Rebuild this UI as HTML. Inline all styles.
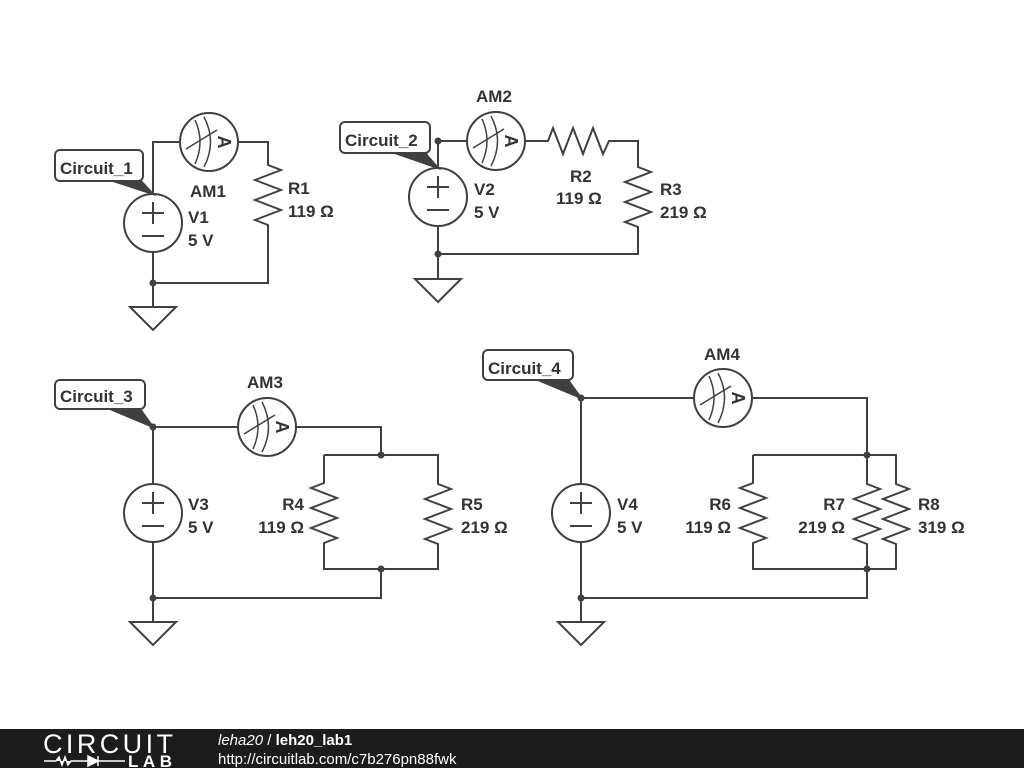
<!DOCTYPE html>
<html><head><meta charset="utf-8"><style>
html,body{margin:0;padding:0;background:#fff;}
svg{display:block;}
text{font-family:"Liberation Sans",sans-serif;font-weight:bold;font-size:17px;fill:#333;}
</style></head><body>
<svg width="1024" height="768" viewBox="0 0 1024 768" xmlns="http://www.w3.org/2000/svg">
<defs>
<g id="am">
  <circle cx="0" cy="0" r="29" fill="#fff" stroke="#404040" stroke-width="2"/>
  <path d="M-14 -22 Q-4 0 -14 22 M-5 -25 Q8 0 -5 25 M-23 7 L8 -12" fill="none" stroke="#404040" stroke-width="1.5"/>
  <text x="15" y="0" transform="rotate(90 15 0)" text-anchor="middle" dy="6" style="font-size:18px">A</text>
</g>
<g id="vs">
  <circle cx="0" cy="0" r="29" fill="#fff" stroke="#404040" stroke-width="2"/>
  <path d="M-11 -10 H11 M0 -21 V1 M-11 13 H11" stroke="#404040" stroke-width="2" fill="none"/>
</g>
<g id="gnd">
  <path d="M-23 0 H23 L0 23 Z" fill="#fff" stroke="#404040" stroke-width="2"/>
</g>
</defs>
<g fill="none" stroke="#404040" stroke-width="2">
<path d="M153 194 V142 H180 M238 142 H268 V165 l13 5 l-26 10 l26 10 l-26 10 l26 10 l-26 10 l13 5 V283 H153 V252 M153 283 V307"/>
<path d="M438 168 V141 H467 M525 141 H548 l5 -13 l10 26 l10 -26 l10 26 l10 -26 l10 26 l6 -13 H638 V167 l13 5 l-26 10 l26 10 l-26 10 l26 10 l-26 10 l13 5 V254 H438 V226 M438 254 V279"/>
<path d="M153 484 V427 H238 M296 427 H381 V455 M324 455 H438 V484 l13 5 l-26 10 l26 10 l-26 10 l26 10 l-26 10 l13 5 V569 H324 V543 l13 -5 l-26 -10 l26 -10 l-26 -10 l26 -10 l-26 -10 l13 -5 V455 M381 569 V598 H153 V542 M153 598 V622"/>
<path d="M581 484 V398 H694 M752 398 H867 V455 M753 455 H896 V484 l13 5 l-26 10 l26 10 l-26 10 l26 10 l-26 10 l13 5 V569 H753 V543 l13 -5 l-26 -10 l26 -10 l-26 -10 l26 -10 l-26 -10 l13 -5 V455 M867 455 V484 l13 5 l-26 10 l26 10 l-26 10 l26 10 l-26 10 l13 5 V569 M867 569 V598 H581 V542 M581 598 V622"/>
</g>
<g fill="#404040">
<circle cx="153" cy="283" r="3.5"/>
<circle cx="438" cy="141" r="3.5"/><circle cx="438" cy="254" r="3.5"/>
<circle cx="153" cy="427" r="3.5"/><circle cx="381" cy="455" r="3.5"/><circle cx="381" cy="569" r="3.5"/><circle cx="153" cy="598" r="3.5"/>
<circle cx="581" cy="398" r="3.5"/><circle cx="867" cy="455" r="3.5"/><circle cx="867" cy="569" r="3.5"/><circle cx="581" cy="598" r="3.5"/>
</g>
<use href="#am" x="209" y="142"/><use href="#am" x="496" y="141"/><use href="#am" x="267" y="427"/><use href="#am" x="723" y="398"/>
<use href="#vs" x="153" y="223"/><use href="#vs" x="438" y="197"/><use href="#vs" x="153" y="513"/><use href="#vs" x="581" y="513"/>
<use href="#gnd" x="153" y="307"/><use href="#gnd" x="438" y="279"/><use href="#gnd" x="153" y="622"/><use href="#gnd" x="581" y="622"/>
<g stroke="#404040" stroke-width="2">
<path d="M110 180 L140 180 L153 194 Z" fill="#404040"/>
<rect x="55" y="150" width="88" height="31" rx="5" fill="#fff"/>
<path d="M395 153 L425 153 L438 168 Z" fill="#404040"/>
<rect x="340" y="122" width="90" height="31" rx="5" fill="#fff"/>
<path d="M110 409 L140 409 L153 427 Z" fill="#404040"/>
<rect x="55" y="380" width="90" height="29" rx="5" fill="#fff"/>
<path d="M538 380 L568 380 L581 398 Z" fill="#404040"/>
<rect x="483" y="350" width="90" height="30" rx="5" fill="#fff"/>
</g>
<text x="60" y="174">Circuit_1</text>
<text x="345" y="146">Circuit_2</text>
<text x="60" y="402">Circuit_3</text>
<text x="488" y="374">Circuit_4</text>
<text x="190" y="197">AM1</text>
<text x="288" y="194">R1</text><text x="288" y="217">119 Ω</text>
<text x="188" y="223">V1</text><text x="188" y="246">5 V</text>
<text x="476" y="102">AM2</text>
<text x="474" y="195">V2</text><text x="474" y="218">5 V</text>
<text x="570" y="182">R2</text><text x="556" y="204">119 Ω</text>
<text x="660" y="195">R3</text><text x="660" y="218">219 Ω</text>
<text x="247" y="388">AM3</text>
<text x="188" y="510">V3</text><text x="188" y="533">5 V</text>
<text x="304" y="510" text-anchor="end">R4</text><text x="304" y="533" text-anchor="end">119 Ω</text>
<text x="461" y="510">R5</text><text x="461" y="533">219 Ω</text>
<text x="704" y="360">AM4</text>
<text x="617" y="510">V4</text><text x="617" y="533">5 V</text>
<text x="731" y="510" text-anchor="end">R6</text><text x="731" y="533" text-anchor="end">119 Ω</text>
<text x="845" y="510" text-anchor="end">R7</text><text x="845" y="533" text-anchor="end">219 Ω</text>
<text x="918" y="510">R8</text><text x="918" y="533">319 Ω</text>
<rect x="0" y="729" width="1024" height="39" fill="#1c1c1c"/>
<text x="43" y="753" style="font-weight:normal;font-size:27px;fill:#fff" textLength="130">CIRCUIT</text>
<path d="M44 761 H56 l3 -4 l3 8 l3 -8 l3 8 l3 -4 H98 M98 756 V766 M88 756 L98 761 L88 766 Z M98 761 H125" stroke="#fff" stroke-width="1.5" fill="#fff"/>
<text x="128" y="767" style="font-size:17px;fill:#fff" textLength="44">LAB</text>
<text x="218" y="745" style="font-size:15px;fill:#fff;font-weight:normal"><tspan font-style="italic">leha20</tspan> / <tspan font-weight="bold">leh20_lab1</tspan></text>
<text x="218" y="764" style="font-size:15px;fill:#fff;font-weight:normal">http://circuitlab.com/c7b276pn88fwk</text>
</svg>
</body></html>
